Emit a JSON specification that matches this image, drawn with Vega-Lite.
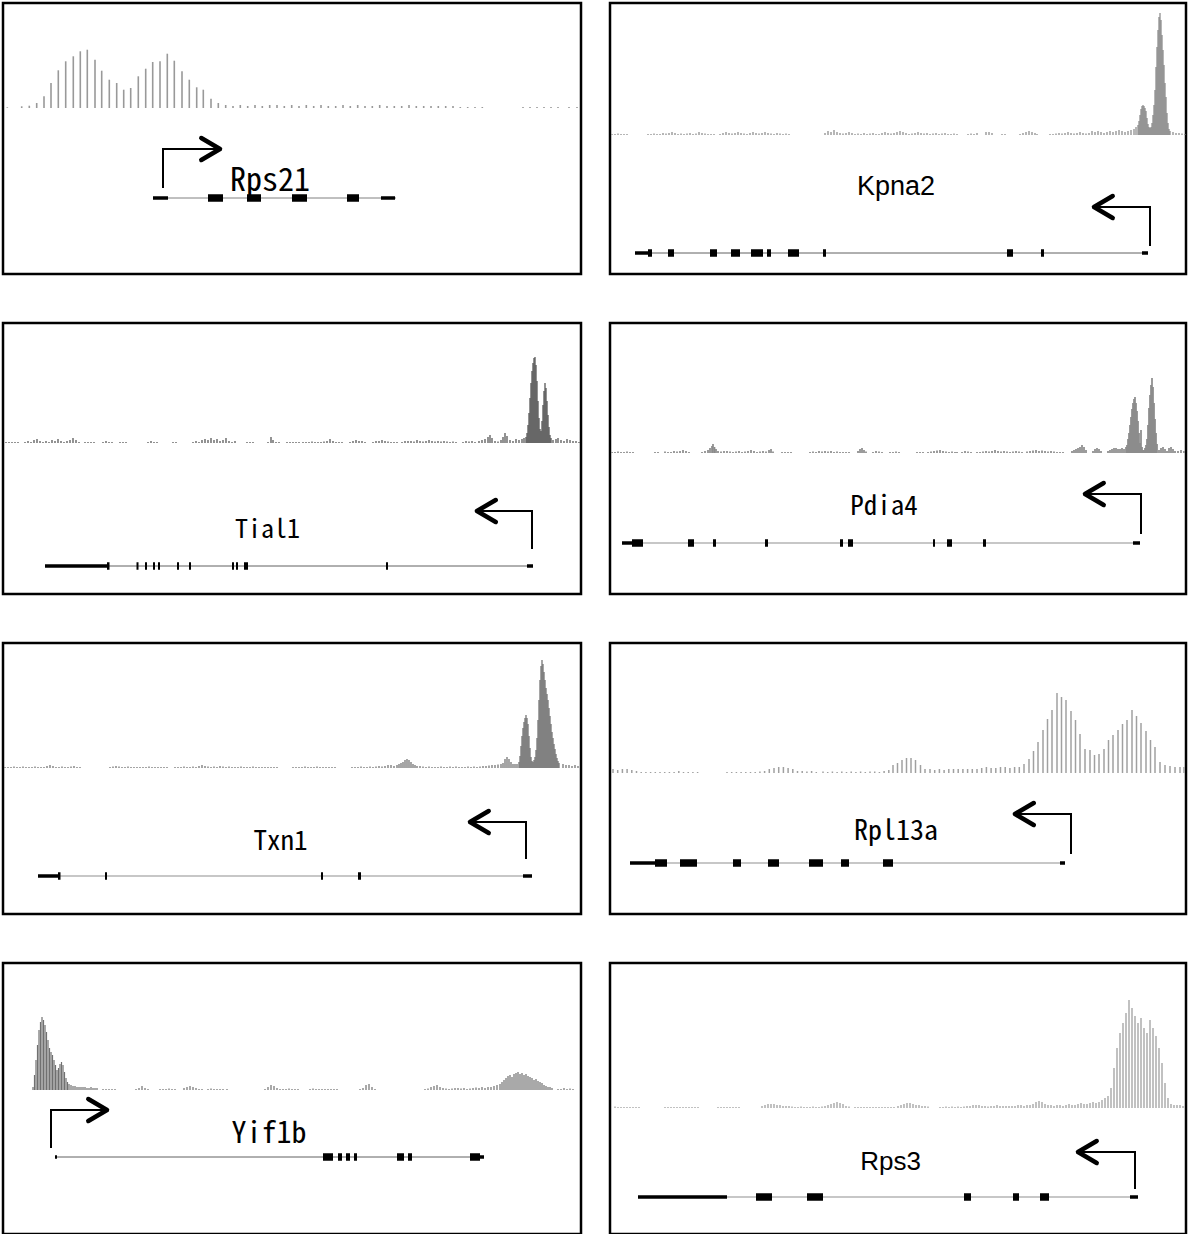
{
  "$schema": "https://vega.github.io/schema/vega-lite/v6.json",
  "background": "white",
  "padding": {"left": 1, "top": 1, "right": 0, "bottom": 0},
  "columns": 2,
  "spacing": {"row": 45, "column": 25},
  "config": {
    "view": {"stroke": "black", "strokeWidth": 2.5},
    "axis": {"disable": true},
    "legend": {"disable": true}
  },
  "datasets": {
    "genes": [
      {"gene": "Rps21", "start": 150, "end": 393, "tss": 160},
      {"gene": "Kpna2", "start": 25, "end": 538, "tss": 540},
      {"gene": "Tial1", "start": 42, "end": 530, "tss": 529},
      {"gene": "Pdia4", "start": 12, "end": 530, "tss": 531},
      {"gene": "Txn1", "start": 35, "end": 529, "tss": 523},
      {"gene": "Rpl13a", "start": 20, "end": 455, "tss": 461},
      {"gene": "Yif1b", "start": 52, "end": 481, "tss": 48},
      {"gene": "Rps3", "start": 28, "end": 528, "tss": 525}
    ],
    "exons": [
      {"gene": "Rps21", "start": 150, "end": 165, "part": "UTR"},
      {"gene": "Rps21", "start": 205, "end": 220, "part": "CDS"},
      {"gene": "Rps21", "start": 244, "end": 258, "part": "CDS"},
      {"gene": "Rps21", "start": 289, "end": 304, "part": "CDS"},
      {"gene": "Rps21", "start": 344, "end": 356, "part": "CDS"},
      {"gene": "Rps21", "start": 378, "end": 392, "part": "UTR"},
      {"gene": "Kpna2", "start": 25, "end": 38, "part": "UTR"},
      {"gene": "Kpna2", "start": 38, "end": 42, "part": "CDS"},
      {"gene": "Kpna2", "start": 58, "end": 64, "part": "CDS"},
      {"gene": "Kpna2", "start": 100, "end": 107, "part": "CDS"},
      {"gene": "Kpna2", "start": 121, "end": 130, "part": "CDS"},
      {"gene": "Kpna2", "start": 141, "end": 153, "part": "CDS"},
      {"gene": "Kpna2", "start": 157, "end": 161, "part": "CDS"},
      {"gene": "Kpna2", "start": 178, "end": 189, "part": "CDS"},
      {"gene": "Kpna2", "start": 213, "end": 216, "part": "CDS"},
      {"gene": "Kpna2", "start": 397, "end": 403, "part": "CDS"},
      {"gene": "Kpna2", "start": 431, "end": 434, "part": "CDS"},
      {"gene": "Kpna2", "start": 532, "end": 538, "part": "UTR"},
      {"gene": "Tial1", "start": 42, "end": 104, "part": "UTR"},
      {"gene": "Tial1", "start": 104, "end": 106.5, "part": "CDS"},
      {"gene": "Tial1", "start": 133.5, "end": 135.5, "part": "CDS"},
      {"gene": "Tial1", "start": 142, "end": 144, "part": "CDS"},
      {"gene": "Tial1", "start": 150, "end": 152, "part": "CDS"},
      {"gene": "Tial1", "start": 155, "end": 157, "part": "CDS"},
      {"gene": "Tial1", "start": 174, "end": 176, "part": "CDS"},
      {"gene": "Tial1", "start": 186, "end": 188, "part": "CDS"},
      {"gene": "Tial1", "start": 229, "end": 231, "part": "CDS"},
      {"gene": "Tial1", "start": 233, "end": 235, "part": "CDS"},
      {"gene": "Tial1", "start": 241, "end": 245, "part": "CDS"},
      {"gene": "Tial1", "start": 383, "end": 385, "part": "CDS"},
      {"gene": "Tial1", "start": 524, "end": 530, "part": "UTR"},
      {"gene": "Pdia4", "start": 12, "end": 22, "part": "UTR"},
      {"gene": "Pdia4", "start": 22, "end": 33, "part": "CDS"},
      {"gene": "Pdia4", "start": 78, "end": 84, "part": "CDS"},
      {"gene": "Pdia4", "start": 103, "end": 106, "part": "CDS"},
      {"gene": "Pdia4", "start": 155, "end": 158, "part": "CDS"},
      {"gene": "Pdia4", "start": 230, "end": 233, "part": "CDS"},
      {"gene": "Pdia4", "start": 238, "end": 243, "part": "CDS"},
      {"gene": "Pdia4", "start": 323, "end": 325, "part": "CDS"},
      {"gene": "Pdia4", "start": 337, "end": 342, "part": "CDS"},
      {"gene": "Pdia4", "start": 373, "end": 376, "part": "CDS"},
      {"gene": "Pdia4", "start": 523, "end": 530, "part": "UTR"},
      {"gene": "Txn1", "start": 35, "end": 56, "part": "UTR"},
      {"gene": "Txn1", "start": 55, "end": 57.5, "part": "CDS"},
      {"gene": "Txn1", "start": 102, "end": 104, "part": "CDS"},
      {"gene": "Txn1", "start": 318, "end": 320, "part": "CDS"},
      {"gene": "Txn1", "start": 355, "end": 358, "part": "CDS"},
      {"gene": "Txn1", "start": 520, "end": 529, "part": "UTR"},
      {"gene": "Rpl13a", "start": 20, "end": 45, "part": "UTR"},
      {"gene": "Rpl13a", "start": 45, "end": 57, "part": "CDS"},
      {"gene": "Rpl13a", "start": 70, "end": 87, "part": "CDS"},
      {"gene": "Rpl13a", "start": 123, "end": 131, "part": "CDS"},
      {"gene": "Rpl13a", "start": 158, "end": 169, "part": "CDS"},
      {"gene": "Rpl13a", "start": 199, "end": 213, "part": "CDS"},
      {"gene": "Rpl13a", "start": 231, "end": 239, "part": "CDS"},
      {"gene": "Rpl13a", "start": 273, "end": 283, "part": "CDS"},
      {"gene": "Rpl13a", "start": 450, "end": 455, "part": "UTR"},
      {"gene": "Yif1b", "start": 52, "end": 54, "part": "UTR"},
      {"gene": "Yif1b", "start": 320, "end": 330, "part": "CDS"},
      {"gene": "Yif1b", "start": 335, "end": 339, "part": "CDS"},
      {"gene": "Yif1b", "start": 343, "end": 347, "part": "CDS"},
      {"gene": "Yif1b", "start": 351, "end": 354, "part": "CDS"},
      {"gene": "Yif1b", "start": 394, "end": 401, "part": "CDS"},
      {"gene": "Yif1b", "start": 405, "end": 409, "part": "CDS"},
      {"gene": "Yif1b", "start": 467, "end": 477, "part": "CDS"},
      {"gene": "Yif1b", "start": 477, "end": 481, "part": "UTR"},
      {"gene": "Rps3", "start": 28, "end": 117, "part": "UTR"},
      {"gene": "Rps3", "start": 146, "end": 162, "part": "CDS"},
      {"gene": "Rps3", "start": 197, "end": 213, "part": "CDS"},
      {"gene": "Rps3", "start": 354, "end": 361, "part": "CDS"},
      {"gene": "Rps3", "start": 403, "end": 409, "part": "CDS"},
      {"gene": "Rps3", "start": 430, "end": 439, "part": "CDS"},
      {"gene": "Rps3", "start": 520, "end": 528, "part": "UTR"}
    ],
    "cov_Rps21": [
      {"pos":4.3,"sig":0.7},{"pos":18.7,"sig":1.7},{"pos":26.3,"sig":2.3},{"pos":33.7,"sig":5},{"pos":41,"sig":11.7},
      {"pos":48,"sig":25},{"pos":55.3,"sig":37.7},{"pos":62.7,"sig":46.7},{"pos":70.3,"sig":51.7},{"pos":77.3,"sig":56.7},
      {"pos":84.3,"sig":58.3},{"pos":92,"sig":48.3},{"pos":98.7,"sig":37.3},{"pos":106.3,"sig":28.3},{"pos":113.7,"sig":25},
      {"pos":120.7,"sig":18.3},{"pos":127.7,"sig":20},{"pos":135.3,"sig":31.7},{"pos":142.7,"sig":39.3},{"pos":149.7,"sig":46},
      {"pos":157,"sig":46.7},{"pos":164.3,"sig":54.3},{"pos":171.3,"sig":47.3},{"pos":179,"sig":36.7},{"pos":186.3,"sig":28.3},
      {"pos":193.7,"sig":20.7},{"pos":200.3,"sig":18.3},{"pos":208,"sig":9.3},{"pos":215.3,"sig":5},
      {"pos":222.7,"sig":3},{"pos":230,"sig":2},{"pos":237.3,"sig":3},{"pos":244.7,"sig":2},{"pos":252,"sig":3},
      {"pos":259.3,"sig":2},{"pos":266.7,"sig":3},{"pos":274,"sig":3},{"pos":281.3,"sig":2},{"pos":288.7,"sig":3},
      {"pos":296,"sig":2},{"pos":303.3,"sig":3},{"pos":310.7,"sig":2},{"pos":318,"sig":3},{"pos":325.3,"sig":2},
      {"pos":332.7,"sig":2},{"pos":340,"sig":3},{"pos":347.3,"sig":2},{"pos":354.7,"sig":3},{"pos":362,"sig":2},
      {"pos":369.3,"sig":2},{"pos":376.7,"sig":3},{"pos":384,"sig":2},{"pos":391.3,"sig":2},{"pos":398.7,"sig":2},
      {"pos":406,"sig":3},{"pos":413.3,"sig":2},{"pos":420.7,"sig":2},{"pos":428,"sig":2},{"pos":435.3,"sig":2},
      {"pos":442.7,"sig":2},{"pos":450,"sig":2},{"pos":457.3,"sig":1},{"pos":464.7,"sig":1},{"pos":472,"sig":1},
      {"pos":479.3,"sig":1},{"pos":520,"sig":1},{"pos":527,"sig":1},{"pos":534,"sig":1},{"pos":541,"sig":1},
      {"pos":548,"sig":1},{"pos":555,"sig":1},{"pos":566,"sig":1},{"pos":574,"sig":1}
    ],
    "cov_Kpna2": [
      {"pos":2,"sig":1},{"pos":5,"sig":1},{"pos":8,"sig":1.5},{"pos":11,"sig":1},{"pos":14,"sig":1},{"pos":17,"sig":1},
      {"pos":38,"sig":1},{"pos":41,"sig":1},{"pos":44,"sig":1.5},{"pos":47,"sig":1},{"pos":50,"sig":1},{"pos":53,"sig":2},
      {"pos":56,"sig":1.5},{"pos":59,"sig":2},{"pos":62,"sig":3},{"pos":65,"sig":2},{"pos":68,"sig":1},{"pos":71,"sig":1.5},
      {"pos":74,"sig":1},{"pos":77,"sig":1.5},{"pos":80,"sig":2},{"pos":83,"sig":1},{"pos":86,"sig":1.5},{"pos":89,"sig":3},
      {"pos":92,"sig":2},{"pos":95,"sig":1.5},{"pos":98,"sig":1},{"pos":101,"sig":1},{"pos":104,"sig":1},
      {"pos":110,"sig":1},{"pos":113,"sig":2},{"pos":116,"sig":3},{"pos":119,"sig":2},{"pos":122,"sig":1.5},{"pos":125,"sig":2},
      {"pos":128,"sig":3},{"pos":131,"sig":2},{"pos":134,"sig":1.5},{"pos":137,"sig":1},{"pos":140,"sig":2},{"pos":143,"sig":3},
      {"pos":146,"sig":2},{"pos":149,"sig":1.5},{"pos":152,"sig":2},{"pos":155,"sig":3},{"pos":158,"sig":2},{"pos":161,"sig":1.5},
      {"pos":164,"sig":1},{"pos":167,"sig":2},{"pos":170,"sig":1.5},{"pos":173,"sig":1},{"pos":176,"sig":1.5},{"pos":179,"sig":1},
      {"pos":215,"sig":2},{"pos":218,"sig":4},{"pos":221,"sig":3},{"pos":224,"sig":5},{"pos":227,"sig":3},{"pos":230,"sig":2},
      {"pos":233,"sig":1.5},{"pos":236,"sig":2},{"pos":239,"sig":3},{"pos":242,"sig":2},{"pos":245,"sig":1},{"pos":248,"sig":1.5},
      {"pos":251,"sig":1},{"pos":254,"sig":2},{"pos":257,"sig":1},{"pos":260,"sig":1.5},{"pos":263,"sig":2},{"pos":266,"sig":1},
      {"pos":269,"sig":1},{"pos":272,"sig":2},{"pos":275,"sig":3},{"pos":278,"sig":2},{"pos":281,"sig":1.5},{"pos":284,"sig":2},
      {"pos":287,"sig":3},{"pos":290,"sig":4},{"pos":293,"sig":3},{"pos":296,"sig":2},{"pos":299,"sig":1},{"pos":302,"sig":1.5},
      {"pos":305,"sig":2},{"pos":308,"sig":3},{"pos":311,"sig":2},{"pos":314,"sig":1.5},{"pos":317,"sig":2},{"pos":320,"sig":1},
      {"pos":323,"sig":1.5},{"pos":326,"sig":2},{"pos":329,"sig":1},{"pos":332,"sig":1.5},{"pos":335,"sig":2},{"pos":338,"sig":1},
      {"pos":341,"sig":1},{"pos":344,"sig":1.5},{"pos":347,"sig":1},
      {"pos":358,"sig":1},{"pos":361,"sig":1.5},{"pos":364,"sig":1},{"pos":367,"sig":2},{"pos":376,"sig":3},{"pos":379,"sig":3},
      {"pos":382,"sig":2},{"pos":392,"sig":1},{"pos":395,"sig":1},
      {"pos":410,"sig":1},{"pos":413,"sig":2},{"pos":416,"sig":3},{"pos":419,"sig":4},{"pos":422,"sig":3},{"pos":425,"sig":2},{"pos":427,"sig":1},
      {"pos":440,"sig":1},{"pos":443,"sig":1},{"pos":446,"sig":1.5},{"pos":449,"sig":2},{"pos":452,"sig":1.5},{"pos":455,"sig":2},
      {"pos":458,"sig":3},{"pos":461,"sig":2},{"pos":464,"sig":1.5},{"pos":467,"sig":2},{"pos":470,"sig":3},{"pos":473,"sig":2},
      {"pos":476,"sig":1.5},{"pos":479,"sig":2},
      {"pos":482,"sig":4},{"pos":485,"sig":3},{"pos":488,"sig":4},{"pos":491,"sig":3},{"pos":494,"sig":2},{"pos":497,"sig":3},
      {"pos":500,"sig":4},{"pos":503,"sig":3},{"pos":506,"sig":4},{"pos":509,"sig":5},{"pos":512,"sig":4},{"pos":515,"sig":3},
      {"pos":518,"sig":4},{"pos":521,"sig":5},{"pos":524,"sig":6},{"pos":526,"sig":8},
      {"pos":528,"sig":10},{"pos":529,"sig":14},{"pos":530,"sig":20},{"pos":531,"sig":26},{"pos":532,"sig":29},{"pos":533,"sig":30},
      {"pos":534,"sig":29},{"pos":535,"sig":27},{"pos":536,"sig":24},{"pos":537,"sig":17},{"pos":538,"sig":11},{"pos":539,"sig":8},
      {"pos":540,"sig":7},{"pos":541,"sig":8},{"pos":542,"sig":12},{"pos":543,"sig":20},{"pos":544,"sig":30},{"pos":545,"sig":45},
      {"pos":546,"sig":68},{"pos":547,"sig":88},{"pos":548,"sig":105},{"pos":549,"sig":118},{"pos":550,"sig":122},{"pos":551,"sig":115},
      {"pos":552,"sig":100},{"pos":553,"sig":85},{"pos":554,"sig":70},{"pos":555,"sig":52},{"pos":556,"sig":38},{"pos":557,"sig":22},
      {"pos":558,"sig":12},{"pos":559,"sig":6},{"pos":560,"sig":4},
      {"pos":563,"sig":3},{"pos":566,"sig":2},{"pos":569,"sig":2},{"pos":572,"sig":1.5},{"pos":575,"sig":1}
    ],
    "cov_Tial1": [
      {"pos":3,"sig":1},{"pos":6,"sig":1},{"pos":9,"sig":1},{"pos":12,"sig":1},{"pos":15,"sig":1},
      {"pos":22,"sig":1},{"pos":25,"sig":2},{"pos":28,"sig":1},{"pos":31,"sig":3},{"pos":34,"sig":4},{"pos":37,"sig":2},
      {"pos":40,"sig":1},{"pos":43,"sig":2},{"pos":46,"sig":1},{"pos":49,"sig":3},{"pos":52,"sig":2},{"pos":55,"sig":4},
      {"pos":58,"sig":2},{"pos":61,"sig":1},{"pos":64,"sig":2},{"pos":67,"sig":3},{"pos":70,"sig":5},{"pos":73,"sig":3},{"pos":76,"sig":1},
      {"pos":82,"sig":1},{"pos":85,"sig":1},{"pos":88,"sig":1},{"pos":91,"sig":1},
      {"pos":100,"sig":1},{"pos":103,"sig":2},{"pos":106,"sig":1},{"pos":109,"sig":1},
      {"pos":117,"sig":1},{"pos":120,"sig":1},{"pos":123,"sig":1},
      {"pos":145,"sig":1},{"pos":148,"sig":2},{"pos":151,"sig":1},{"pos":154,"sig":1},
      {"pos":170,"sig":1},{"pos":173,"sig":1},
      {"pos":190,"sig":1},{"pos":193,"sig":2},{"pos":196,"sig":1},{"pos":199,"sig":3},{"pos":202,"sig":4},{"pos":205,"sig":3},
      {"pos":208,"sig":5},{"pos":211,"sig":3},{"pos":214,"sig":4},{"pos":217,"sig":2},{"pos":220,"sig":3},{"pos":223,"sig":5},
      {"pos":226,"sig":2},{"pos":229,"sig":1},{"pos":232,"sig":2},
      {"pos":244,"sig":1},{"pos":247,"sig":1},{"pos":250,"sig":1},
      {"pos":265,"sig":1},{"pos":268,"sig":6},{"pos":270,"sig":3},{"pos":273,"sig":1},{"pos":276,"sig":1},
      {"pos":284,"sig":1},{"pos":287,"sig":1},{"pos":290,"sig":1},{"pos":293,"sig":1},{"pos":296,"sig":1},
      {"pos":300,"sig":1},{"pos":303,"sig":1},{"pos":306,"sig":1},{"pos":309,"sig":1.5},{"pos":312,"sig":1},{"pos":315,"sig":1},
      {"pos":318,"sig":1},{"pos":321,"sig":1.5},{"pos":324,"sig":2},{"pos":327,"sig":4},{"pos":330,"sig":2},{"pos":333,"sig":1},
      {"pos":336,"sig":1},{"pos":339,"sig":1},{"pos":347,"sig":1},{"pos":350,"sig":2},{"pos":353,"sig":3},{"pos":356,"sig":2},
      {"pos":359,"sig":2},{"pos":362,"sig":1},{"pos":370,"sig":1},{"pos":373,"sig":2},{"pos":376,"sig":2},{"pos":379,"sig":3},
      {"pos":382,"sig":2},{"pos":385,"sig":1.5},{"pos":388,"sig":1},{"pos":391,"sig":1},{"pos":394,"sig":1},{"pos":399,"sig":1},
      {"pos":402,"sig":2},{"pos":405,"sig":2},{"pos":408,"sig":2},{"pos":411,"sig":1.5},{"pos":414,"sig":3},{"pos":417,"sig":2},
      {"pos":420,"sig":1.5},{"pos":423,"sig":2},{"pos":426,"sig":3},{"pos":429,"sig":2},{"pos":432,"sig":1.5},{"pos":435,"sig":2},
      {"pos":438,"sig":1.5},{"pos":441,"sig":2},{"pos":444,"sig":1.5},{"pos":447,"sig":1},{"pos":450,"sig":1.5},{"pos":453,"sig":1},
      {"pos":460,"sig":1},{"pos":463,"sig":2},{"pos":466,"sig":1.5},{"pos":469,"sig":2},{"pos":472,"sig":1},{"pos":476,"sig":2},
      {"pos":479,"sig":3},{"pos":482,"sig":4},{"pos":485,"sig":6},{"pos":487,"sig":8},{"pos":489,"sig":5},{"pos":492,"sig":2},
      {"pos":495,"sig":1.5},{"pos":498,"sig":3},{"pos":500,"sig":6},{"pos":502,"sig":10},{"pos":504,"sig":7},{"pos":507,"sig":3},
      {"pos":510,"sig":2},{"pos":513,"sig":4},{"pos":516,"sig":3},{"pos":519,"sig":4},{"pos":521,"sig":5},
      {"pos":523,"sig":6},{"pos":524,"sig":10},{"pos":525,"sig":18},{"pos":526,"sig":30},{"pos":527,"sig":45},{"pos":528,"sig":60},
      {"pos":529,"sig":72},{"pos":530,"sig":80},{"pos":531,"sig":85},{"pos":532,"sig":86},{"pos":533,"sig":78},{"pos":534,"sig":62},
      {"pos":535,"sig":42},{"pos":536,"sig":25},{"pos":537,"sig":14},{"pos":538,"sig":12},{"pos":539,"sig":22},{"pos":540,"sig":38},
      {"pos":541,"sig":52},{"pos":542,"sig":60},{"pos":543,"sig":55},{"pos":544,"sig":42},{"pos":545,"sig":28},{"pos":546,"sig":16},
      {"pos":547,"sig":8},{"pos":548,"sig":5},
      {"pos":550,"sig":3},{"pos":553,"sig":4},{"pos":555,"sig":5},{"pos":558,"sig":3},{"pos":561,"sig":2},{"pos":564,"sig":4},
      {"pos":567,"sig":3},{"pos":570,"sig":2},{"pos":573,"sig":2},{"pos":576,"sig":1}
    ],
    "cov_Pdia4": [
      {"pos":2,"sig":1},{"pos":5,"sig":1},{"pos":8,"sig":1.5},{"pos":11,"sig":1},{"pos":14,"sig":1},{"pos":17,"sig":1.5},{"pos":20,"sig":1},{"pos":23,"sig":1},
      {"pos":45,"sig":1},{"pos":48,"sig":1},{"pos":55,"sig":1.5},{"pos":58,"sig":1},{"pos":61,"sig":1},{"pos":64,"sig":2},
      {"pos":67,"sig":1.5},{"pos":70,"sig":2},{"pos":73,"sig":3},{"pos":76,"sig":2},{"pos":79,"sig":1},
      {"pos":92,"sig":1},{"pos":95,"sig":2},{"pos":98,"sig":3},{"pos":100,"sig":5},{"pos":102,"sig":7},{"pos":103,"sig":9},
      {"pos":104.5,"sig":6},{"pos":106,"sig":4},{"pos":108,"sig":2},{"pos":111,"sig":1.5},{"pos":114,"sig":2},{"pos":117,"sig":2},
      {"pos":120,"sig":1.5},{"pos":123,"sig":1},{"pos":126,"sig":1.5},{"pos":129,"sig":2},{"pos":132,"sig":1},{"pos":135,"sig":1.5},
      {"pos":138,"sig":2},{"pos":141,"sig":3},{"pos":144,"sig":2},{"pos":147,"sig":1},{"pos":150,"sig":1.5},{"pos":153,"sig":2},
      {"pos":156,"sig":1.5},{"pos":159,"sig":3},{"pos":161,"sig":4},{"pos":163,"sig":1.5},
      {"pos":172,"sig":1},{"pos":175,"sig":1},{"pos":178,"sig":1},{"pos":181,"sig":1},
      {"pos":200,"sig":1},{"pos":203,"sig":1.5},{"pos":206,"sig":1},{"pos":209,"sig":2},{"pos":212,"sig":1.5},{"pos":215,"sig":2},
      {"pos":218,"sig":1.5},{"pos":221,"sig":2},{"pos":224,"sig":1},{"pos":227,"sig":1.5},{"pos":230,"sig":1},{"pos":233,"sig":1},
      {"pos":236,"sig":1},{"pos":239,"sig":1},
      {"pos":248,"sig":2},{"pos":250,"sig":4},{"pos":252,"sig":5},{"pos":254,"sig":3},{"pos":256,"sig":1.5},
      {"pos":263,"sig":1},{"pos":266,"sig":2},{"pos":269,"sig":1.5},{"pos":272,"sig":1},
      {"pos":280,"sig":1},{"pos":283,"sig":1},{"pos":286,"sig":1.5},{"pos":289,"sig":1},
      {"pos":307,"sig":1},{"pos":310,"sig":1},{"pos":313,"sig":1},
      {"pos":318,"sig":1},{"pos":321,"sig":1.5},{"pos":324,"sig":2},{"pos":327,"sig":2.5},{"pos":330,"sig":3},{"pos":333,"sig":2},
      {"pos":336,"sig":1.5},{"pos":339,"sig":1},{"pos":342,"sig":1.5},{"pos":345,"sig":1},{"pos":347,"sig":1},
      {"pos":352,"sig":1},{"pos":355,"sig":2},{"pos":358,"sig":1.5},{"pos":361,"sig":1},
      {"pos":367,"sig":1},{"pos":370,"sig":1},{"pos":373,"sig":1.5},{"pos":376,"sig":2},{"pos":379,"sig":1.5},{"pos":382,"sig":2},
      {"pos":385,"sig":3},{"pos":388,"sig":2},{"pos":391,"sig":1.5},{"pos":394,"sig":2},{"pos":397,"sig":1.5},{"pos":400,"sig":1},
      {"pos":403,"sig":1.5},{"pos":406,"sig":2},{"pos":409,"sig":1.5},{"pos":412,"sig":1},
      {"pos":417,"sig":1.5},{"pos":420,"sig":2},{"pos":423,"sig":2.5},{"pos":426,"sig":3},{"pos":429,"sig":2},{"pos":432,"sig":2.5},
      {"pos":435,"sig":2},{"pos":438,"sig":1.5},{"pos":441,"sig":2},{"pos":444,"sig":1.5},{"pos":447,"sig":1},{"pos":450,"sig":1},{"pos":453,"sig":1},
      {"pos":462,"sig":2},{"pos":464,"sig":3},{"pos":466,"sig":4},{"pos":468,"sig":5},{"pos":470,"sig":6},{"pos":472,"sig":8},{"pos":474,"sig":6},{"pos":476,"sig":3},
      {"pos":483,"sig":2},{"pos":485,"sig":4},{"pos":487,"sig":5},{"pos":489,"sig":4},{"pos":491,"sig":2},
      {"pos":498,"sig":2},{"pos":500,"sig":3},{"pos":502,"sig":4},{"pos":504,"sig":5},{"pos":506,"sig":5},{"pos":508,"sig":4},
      {"pos":510,"sig":4},{"pos":512,"sig":5},{"pos":514,"sig":4},{"pos":516,"sig":6},
      {"pos":517,"sig":8},{"pos":518,"sig":14},{"pos":519,"sig":20},{"pos":520,"sig":28},{"pos":521,"sig":36},{"pos":522,"sig":44},
      {"pos":523,"sig":50},{"pos":524,"sig":54},{"pos":525,"sig":56},{"pos":526,"sig":50},{"pos":527,"sig":42},{"pos":528,"sig":32},
      {"pos":529,"sig":20},{"pos":530,"sig":10},{"pos":531,"sig":23},{"pos":532,"sig":6},{"pos":533,"sig":3},{"pos":534,"sig":3},
      {"pos":535,"sig":5},{"pos":536,"sig":8},{"pos":537,"sig":14},{"pos":538,"sig":28},{"pos":539,"sig":45},{"pos":540,"sig":58},
      {"pos":541,"sig":68},{"pos":542,"sig":75},{"pos":543,"sig":66},{"pos":544,"sig":50},{"pos":545,"sig":34},{"pos":546,"sig":20},
      {"pos":547,"sig":9},
      {"pos":549,"sig":3},{"pos":551,"sig":5},{"pos":553,"sig":6},{"pos":555,"sig":4},{"pos":557,"sig":2},{"pos":559,"sig":5},
      {"pos":561,"sig":6},{"pos":563,"sig":4},{"pos":565,"sig":2},{"pos":568,"sig":2},{"pos":571,"sig":3},{"pos":574,"sig":2}
    ],
    "cov_Txn1": [
      {"pos":2,"sig":1},{"pos":5,"sig":1},{"pos":8,"sig":1},{"pos":11,"sig":1.5},{"pos":14,"sig":1},{"pos":17,"sig":1},
      {"pos":20,"sig":1.5},{"pos":23,"sig":1},{"pos":26,"sig":1},{"pos":29,"sig":1},{"pos":32,"sig":1.5},{"pos":35,"sig":1},
      {"pos":38,"sig":1},{"pos":41,"sig":1},{"pos":44,"sig":2},{"pos":47,"sig":3},{"pos":50,"sig":2},{"pos":53,"sig":1},
      {"pos":56,"sig":1},{"pos":59,"sig":1.5},{"pos":62,"sig":1},{"pos":65,"sig":1},{"pos":68,"sig":1.5},{"pos":71,"sig":2},
      {"pos":74,"sig":1},{"pos":77,"sig":1},
      {"pos":107,"sig":1},{"pos":110,"sig":1.5},{"pos":113,"sig":2},{"pos":116,"sig":1.5},{"pos":119,"sig":1},{"pos":122,"sig":1},
      {"pos":125,"sig":1.5},{"pos":128,"sig":1},{"pos":131,"sig":1},{"pos":134,"sig":1},{"pos":137,"sig":1},{"pos":140,"sig":1},
      {"pos":143,"sig":1},{"pos":146,"sig":1.5},{"pos":149,"sig":1},{"pos":152,"sig":1},{"pos":155,"sig":1},{"pos":158,"sig":1},
      {"pos":161,"sig":1},{"pos":164,"sig":1},
      {"pos":172,"sig":1},{"pos":175,"sig":1},{"pos":178,"sig":1},{"pos":181,"sig":1.5},{"pos":184,"sig":1},{"pos":187,"sig":1},
      {"pos":190,"sig":1.5},{"pos":193,"sig":1},{"pos":196,"sig":2},{"pos":199,"sig":3},{"pos":202,"sig":2},{"pos":205,"sig":1.5},
      {"pos":208,"sig":1},{"pos":211,"sig":1.5},{"pos":214,"sig":1},{"pos":217,"sig":2},{"pos":220,"sig":1.5},{"pos":223,"sig":1},
      {"pos":226,"sig":1.5},{"pos":229,"sig":1},{"pos":232,"sig":1},{"pos":235,"sig":1},{"pos":238,"sig":1.5},{"pos":241,"sig":1},
      {"pos":244,"sig":1},{"pos":247,"sig":1},{"pos":250,"sig":1.5},{"pos":253,"sig":1},{"pos":256,"sig":1},{"pos":259,"sig":1},
      {"pos":262,"sig":1},{"pos":265,"sig":1},{"pos":268,"sig":1},{"pos":271,"sig":1},{"pos":274,"sig":1},
      {"pos":290,"sig":1},{"pos":293,"sig":1},{"pos":296,"sig":1},{"pos":299,"sig":1},{"pos":302,"sig":1.5},{"pos":305,"sig":1},
      {"pos":308,"sig":1},{"pos":311,"sig":1},{"pos":314,"sig":1.5},{"pos":317,"sig":1},{"pos":320,"sig":1},{"pos":323,"sig":1},
      {"pos":326,"sig":1},{"pos":329,"sig":1},{"pos":332,"sig":1},
      {"pos":349,"sig":1},{"pos":352,"sig":1},{"pos":355,"sig":1},{"pos":358,"sig":1.5},{"pos":361,"sig":1},{"pos":364,"sig":1},
      {"pos":367,"sig":1.5},{"pos":370,"sig":1},{"pos":373,"sig":1.5},{"pos":376,"sig":2},{"pos":379,"sig":1.5},{"pos":382,"sig":2},
      {"pos":385,"sig":3},{"pos":388,"sig":3},{"pos":391,"sig":2},{"pos":394,"sig":3},{"pos":396,"sig":4},{"pos":398,"sig":5},
      {"pos":400,"sig":6},{"pos":402,"sig":8},{"pos":404,"sig":9},{"pos":406,"sig":8},{"pos":408,"sig":6},{"pos":410,"sig":4},
      {"pos":412,"sig":3},{"pos":414,"sig":2},
      {"pos":417,"sig":2},{"pos":420,"sig":1.5},{"pos":423,"sig":1},{"pos":426,"sig":1.5},{"pos":429,"sig":1},{"pos":432,"sig":1},
      {"pos":435,"sig":1},{"pos":438,"sig":1.5},{"pos":441,"sig":1},{"pos":444,"sig":1},{"pos":447,"sig":1.5},{"pos":450,"sig":1},
      {"pos":453,"sig":1.5},{"pos":456,"sig":1},{"pos":459,"sig":1},{"pos":462,"sig":1},{"pos":465,"sig":1.5},{"pos":468,"sig":1},
      {"pos":471,"sig":1.5},{"pos":474,"sig":1},{"pos":477,"sig":1.5},{"pos":480,"sig":2},{"pos":483,"sig":2},{"pos":486,"sig":2.5},
      {"pos":489,"sig":3},{"pos":492,"sig":3},{"pos":495,"sig":3.5},{"pos":498,"sig":4},{"pos":500,"sig":5},{"pos":502,"sig":9},
      {"pos":504,"sig":11},{"pos":506,"sig":9},{"pos":508,"sig":6},{"pos":510,"sig":4},{"pos":512,"sig":4},{"pos":514,"sig":4},{"pos":516,"sig":6},
      {"pos":517,"sig":12},{"pos":518,"sig":22},{"pos":519,"sig":32},{"pos":520,"sig":40},{"pos":521,"sig":46},{"pos":522,"sig":50},
      {"pos":523,"sig":53},{"pos":524,"sig":50},{"pos":525,"sig":44},{"pos":526,"sig":32},{"pos":527,"sig":20},{"pos":528,"sig":11},
      {"pos":529,"sig":7},{"pos":530,"sig":6},{"pos":531,"sig":8},{"pos":532,"sig":11},{"pos":533,"sig":18},{"pos":534,"sig":30},
      {"pos":535,"sig":48},{"pos":536,"sig":68},{"pos":537,"sig":88},{"pos":538,"sig":102},{"pos":539,"sig":108},{"pos":540,"sig":104},
      {"pos":541,"sig":96},{"pos":542,"sig":88},{"pos":543,"sig":80},{"pos":544,"sig":74},{"pos":545,"sig":68},{"pos":546,"sig":60},
      {"pos":547,"sig":52},{"pos":548,"sig":44},{"pos":549,"sig":36},{"pos":550,"sig":30},{"pos":551,"sig":24},{"pos":552,"sig":19},
      {"pos":553,"sig":14},{"pos":554,"sig":10},{"pos":555,"sig":7},{"pos":556,"sig":5},
      {"pos":560,"sig":4},{"pos":563,"sig":3},{"pos":566,"sig":3},{"pos":569,"sig":2},{"pos":572,"sig":3},{"pos":575,"sig":2}
    ],
    "cov_Rpl13a": [
      {"pos":3,"sig":4},{"pos":7.7,"sig":3},{"pos":12.4,"sig":4},{"pos":17.1,"sig":4},{"pos":21.8,"sig":3},{"pos":26.5,"sig":2},
      {"pos":31.2,"sig":1},{"pos":35.9,"sig":1},{"pos":40.6,"sig":1},{"pos":45.3,"sig":1},{"pos":50,"sig":1},{"pos":54.7,"sig":1},
      {"pos":59.4,"sig":1},{"pos":64.1,"sig":1},{"pos":68.8,"sig":2},{"pos":73.5,"sig":1},{"pos":78.2,"sig":1},{"pos":82.9,"sig":1},{"pos":87.6,"sig":1},
      {"pos":117,"sig":1},{"pos":121.7,"sig":1},{"pos":126.4,"sig":1},{"pos":131.1,"sig":1},{"pos":135.8,"sig":1},{"pos":140.5,"sig":1},
      {"pos":145.2,"sig":1},{"pos":149.9,"sig":1.5},{"pos":154.6,"sig":2},{"pos":159.3,"sig":4},{"pos":164,"sig":5},{"pos":168.7,"sig":6},
      {"pos":173.4,"sig":6},{"pos":178.1,"sig":5},{"pos":182.8,"sig":4},{"pos":187.5,"sig":2},{"pos":192.2,"sig":2},{"pos":196.9,"sig":1.5},
      {"pos":201.6,"sig":2},{"pos":206.3,"sig":1},
      {"pos":213,"sig":1.5},{"pos":217.7,"sig":1},{"pos":222.4,"sig":1.5},{"pos":227.1,"sig":1},{"pos":231.8,"sig":1.5},{"pos":236.5,"sig":1},
      {"pos":241.2,"sig":1.5},{"pos":245.9,"sig":1},{"pos":250.6,"sig":1.5},{"pos":255.3,"sig":1},{"pos":260,"sig":1.5},{"pos":264.7,"sig":1.5},
      {"pos":269.4,"sig":1},{"pos":274.1,"sig":2},{"pos":278.8,"sig":3},
      {"pos":283,"sig":8},{"pos":287.5,"sig":10},{"pos":292,"sig":13},{"pos":296.5,"sig":15},{"pos":301,"sig":15},{"pos":305.5,"sig":13},
      {"pos":310.5,"sig":8},{"pos":315,"sig":4},
      {"pos":320,"sig":4},{"pos":324.7,"sig":3},{"pos":329.4,"sig":4},{"pos":334.1,"sig":3},{"pos":338.8,"sig":4},{"pos":343.5,"sig":4},
      {"pos":348.2,"sig":4},{"pos":352.9,"sig":4},{"pos":357.6,"sig":4},{"pos":362.3,"sig":4},{"pos":367,"sig":4},{"pos":371.7,"sig":5},
      {"pos":376.4,"sig":6},{"pos":381.1,"sig":5},{"pos":385.8,"sig":5},{"pos":390.5,"sig":6},{"pos":395.2,"sig":6},{"pos":399.9,"sig":5},
      {"pos":404.6,"sig":6},{"pos":409.3,"sig":6},{"pos":414,"sig":9},
      {"pos":419,"sig":14},{"pos":423.5,"sig":22},{"pos":428,"sig":31},{"pos":433,"sig":43},{"pos":437.5,"sig":54},{"pos":442,"sig":63},
      {"pos":447,"sig":80},{"pos":451.5,"sig":76},{"pos":456,"sig":73},{"pos":461,"sig":62},{"pos":465.5,"sig":53},{"pos":470,"sig":39},
      {"pos":475,"sig":24},{"pos":480,"sig":23},{"pos":484.5,"sig":18},{"pos":489,"sig":19},{"pos":494,"sig":24},{"pos":498.5,"sig":33},
      {"pos":503,"sig":38},{"pos":508,"sig":43},{"pos":512.5,"sig":49},{"pos":517,"sig":53},{"pos":522,"sig":63},{"pos":526.5,"sig":57},
      {"pos":531,"sig":50},{"pos":536,"sig":42},{"pos":540.5,"sig":33},{"pos":545,"sig":26},{"pos":550,"sig":11},{"pos":555,"sig":8},
      {"pos":560,"sig":7},{"pos":565,"sig":6},{"pos":570,"sig":6},{"pos":574,"sig":6}
    ],
    "cov_Yif1b": [
      {"pos":30,"sig":3},{"pos":31.5,"sig":15},{"pos":33,"sig":30},{"pos":34.5,"sig":45},{"pos":36,"sig":60},{"pos":37.5,"sig":68},
      {"pos":39,"sig":73},{"pos":40.5,"sig":70},{"pos":42,"sig":65},{"pos":43.5,"sig":58},{"pos":45,"sig":50},{"pos":46.5,"sig":42},
      {"pos":48,"sig":38},{"pos":49.5,"sig":35},{"pos":51,"sig":30},{"pos":52.5,"sig":25},{"pos":54,"sig":20},{"pos":55.5,"sig":22},
      {"pos":57,"sig":26},{"pos":58.5,"sig":28},{"pos":60,"sig":25},{"pos":61.5,"sig":18},{"pos":63,"sig":12},{"pos":64.5,"sig":8},
      {"pos":66,"sig":6},{"pos":68,"sig":5},{"pos":70,"sig":4},{"pos":72,"sig":4},{"pos":74,"sig":3},{"pos":76,"sig":3},
      {"pos":78,"sig":3},{"pos":80,"sig":3},{"pos":82,"sig":3},{"pos":84,"sig":2},{"pos":86,"sig":2},{"pos":88,"sig":3},
      {"pos":90,"sig":2},{"pos":92,"sig":2},{"pos":94,"sig":2},
      {"pos":100,"sig":1},{"pos":103,"sig":1},{"pos":106,"sig":1},{"pos":109,"sig":1},{"pos":112,"sig":1},
      {"pos":133,"sig":1},{"pos":136,"sig":2},{"pos":139,"sig":4},{"pos":142,"sig":2},{"pos":145,"sig":1},
      {"pos":157,"sig":1},{"pos":160,"sig":1},{"pos":163,"sig":1},{"pos":166,"sig":1.5},{"pos":169,"sig":1},{"pos":172,"sig":1},
      {"pos":181,"sig":2},{"pos":184,"sig":3},{"pos":187,"sig":4},{"pos":190,"sig":3},{"pos":193,"sig":2},{"pos":196,"sig":1},
      {"pos":199,"sig":1},{"pos":205,"sig":1},{"pos":208,"sig":1.5},{"pos":211,"sig":1},{"pos":214,"sig":1},{"pos":217,"sig":1},
      {"pos":220,"sig":1},{"pos":224,"sig":1},
      {"pos":262,"sig":1},{"pos":265,"sig":3},{"pos":268,"sig":5},{"pos":271,"sig":4},{"pos":274,"sig":2},{"pos":277,"sig":1},
      {"pos":280,"sig":1},{"pos":283,"sig":1},{"pos":286,"sig":1.5},{"pos":289,"sig":1},{"pos":292,"sig":1},{"pos":295,"sig":1},
      {"pos":307,"sig":1},{"pos":310,"sig":1.5},{"pos":313,"sig":1},{"pos":316,"sig":1},{"pos":319,"sig":1},{"pos":322,"sig":1},
      {"pos":325,"sig":1},{"pos":328,"sig":1},{"pos":331,"sig":1},{"pos":334,"sig":1},
      {"pos":357,"sig":1},{"pos":360,"sig":2},{"pos":363,"sig":5},{"pos":366,"sig":6},{"pos":369,"sig":3},{"pos":372,"sig":1},
      {"pos":422,"sig":1},{"pos":425,"sig":1.5},{"pos":428,"sig":3},{"pos":431,"sig":4},{"pos":434,"sig":5},{"pos":437,"sig":3},
      {"pos":440,"sig":2},{"pos":443,"sig":1.5},{"pos":446,"sig":1},{"pos":449,"sig":1.5},{"pos":452,"sig":2},{"pos":455,"sig":2},
      {"pos":458,"sig":1.5},{"pos":461,"sig":2},{"pos":464,"sig":1},{"pos":467,"sig":1.5},{"pos":470,"sig":2},{"pos":473,"sig":2.5},
      {"pos":476,"sig":2},{"pos":479,"sig":3},{"pos":482,"sig":2},{"pos":485,"sig":3},{"pos":488,"sig":3},{"pos":491,"sig":4},
      {"pos":494,"sig":5},{"pos":497,"sig":6},{"pos":499,"sig":8},{"pos":501,"sig":10},{"pos":503,"sig":12},{"pos":505,"sig":14},
      {"pos":507,"sig":15},{"pos":509,"sig":13},{"pos":511,"sig":16},{"pos":513,"sig":17},{"pos":515,"sig":18},{"pos":517,"sig":16},
      {"pos":519,"sig":17},{"pos":521,"sig":15},{"pos":523,"sig":16},{"pos":525,"sig":14},{"pos":527,"sig":13},{"pos":529,"sig":12},
      {"pos":531,"sig":10},{"pos":533,"sig":11},{"pos":535,"sig":9},{"pos":537,"sig":8},{"pos":539,"sig":7},{"pos":541,"sig":5},
      {"pos":543,"sig":4},{"pos":545,"sig":3},{"pos":547,"sig":3},{"pos":549,"sig":2},
      {"pos":555,"sig":1},{"pos":558,"sig":1},{"pos":561,"sig":2},{"pos":564,"sig":1},{"pos":567,"sig":1.5},{"pos":570,"sig":1}
    ],
    "cov_Rps3": [
      {"pos":5,"sig":1.5},{"pos":8,"sig":1},{"pos":11,"sig":1},{"pos":14,"sig":1},{"pos":17,"sig":1},{"pos":20,"sig":1},
      {"pos":23,"sig":1},{"pos":26,"sig":1},{"pos":29,"sig":1},
      {"pos":55,"sig":1},{"pos":58,"sig":1},{"pos":61,"sig":1},{"pos":64,"sig":1},{"pos":67,"sig":1},{"pos":70,"sig":1},
      {"pos":73,"sig":1},{"pos":76,"sig":1},{"pos":79,"sig":1},{"pos":82,"sig":1},{"pos":85,"sig":1},{"pos":88,"sig":1},
      {"pos":108,"sig":1},{"pos":111,"sig":1},{"pos":114,"sig":1},{"pos":117,"sig":1},{"pos":120,"sig":1},{"pos":123,"sig":1},
      {"pos":126,"sig":1},{"pos":129,"sig":1},
      {"pos":152,"sig":2},{"pos":155,"sig":3},{"pos":158,"sig":4},{"pos":161,"sig":4},{"pos":164,"sig":4},{"pos":167,"sig":3},
      {"pos":170,"sig":3},{"pos":173,"sig":2},{"pos":176,"sig":2},{"pos":179,"sig":2},{"pos":182,"sig":1.5},{"pos":185,"sig":1},
      {"pos":188,"sig":1},{"pos":191,"sig":1.5},{"pos":194,"sig":1},{"pos":197,"sig":1},{"pos":200,"sig":1},{"pos":203,"sig":1.5},
      {"pos":206,"sig":1},{"pos":209,"sig":1},{"pos":212,"sig":1.5},{"pos":215,"sig":2},{"pos":218,"sig":3},{"pos":221,"sig":4},
      {"pos":224,"sig":5},{"pos":227,"sig":6},{"pos":230,"sig":5},{"pos":233,"sig":4},{"pos":236,"sig":2},{"pos":239,"sig":1.5},
      {"pos":245,"sig":1},{"pos":248,"sig":1},{"pos":251,"sig":1},{"pos":254,"sig":1},{"pos":257,"sig":1},{"pos":260,"sig":1},
      {"pos":263,"sig":1},{"pos":266,"sig":1},{"pos":269,"sig":1},{"pos":272,"sig":1},{"pos":275,"sig":1},{"pos":278,"sig":1},
      {"pos":281,"sig":1},{"pos":284,"sig":1},
      {"pos":288,"sig":2},{"pos":291,"sig":3},{"pos":294,"sig":4},{"pos":297,"sig":5},{"pos":300,"sig":5},{"pos":303,"sig":4},
      {"pos":306,"sig":3},{"pos":309,"sig":3},{"pos":312,"sig":2},{"pos":315,"sig":2},{"pos":318,"sig":1.5},
      {"pos":330,"sig":1},{"pos":333,"sig":1},{"pos":336,"sig":1.5},{"pos":339,"sig":1},{"pos":342,"sig":1.5},{"pos":345,"sig":1},
      {"pos":348,"sig":1.5},{"pos":351,"sig":1},{"pos":354,"sig":1.5},{"pos":357,"sig":2},{"pos":360,"sig":2},{"pos":363,"sig":3},
      {"pos":366,"sig":3},{"pos":369,"sig":3},{"pos":372,"sig":2},{"pos":375,"sig":2},{"pos":378,"sig":1.5},{"pos":381,"sig":2},
      {"pos":384,"sig":2},{"pos":387,"sig":3},{"pos":390,"sig":2},{"pos":393,"sig":2},{"pos":396,"sig":2},{"pos":399,"sig":2},
      {"pos":402,"sig":2},{"pos":405,"sig":2},{"pos":408,"sig":3},{"pos":411,"sig":3},{"pos":414,"sig":2},{"pos":417,"sig":3},
      {"pos":420,"sig":3},{"pos":423,"sig":4},{"pos":426,"sig":6},{"pos":429,"sig":7},{"pos":432,"sig":6},{"pos":435,"sig":4},
      {"pos":438,"sig":3},{"pos":441,"sig":3},{"pos":444,"sig":2},{"pos":447,"sig":3},{"pos":450,"sig":3},{"pos":453,"sig":2},
      {"pos":456,"sig":3},{"pos":459,"sig":4},{"pos":462,"sig":3},{"pos":465,"sig":3},{"pos":468,"sig":4},{"pos":471,"sig":5},
      {"pos":474,"sig":4},{"pos":477,"sig":4},{"pos":480,"sig":5},{"pos":483,"sig":6},{"pos":486,"sig":5},{"pos":489,"sig":6},
      {"pos":492,"sig":8},{"pos":495,"sig":10},{"pos":498,"sig":12},
      {"pos":501,"sig":20},{"pos":504,"sig":40},{"pos":507,"sig":60},{"pos":510,"sig":75},{"pos":513,"sig":85},{"pos":516,"sig":95},
      {"pos":519,"sig":108},{"pos":522,"sig":100},{"pos":525,"sig":92},{"pos":528,"sig":85},{"pos":531,"sig":90},{"pos":534,"sig":80},
      {"pos":537,"sig":75},{"pos":540,"sig":88},{"pos":543,"sig":80},{"pos":546,"sig":72},{"pos":549,"sig":60},{"pos":552,"sig":45},
      {"pos":555,"sig":25},{"pos":558,"sig":10},
      {"pos":561,"sig":4},{"pos":564,"sig":3},{"pos":567,"sig":3},{"pos":570,"sig":3},{"pos":573,"sig":2}
    ]
  },
  "concat": [
    {
      "width": 578, "height": 271,
      "layer": [
        {"data": {"name": "cov_Rps21"}, "mark": {"type": "rule", "color": "#999999", "strokeWidth": 1.6},
         "encoding": {"x": {"field": "pos", "type": "quantitative", "scale": {"domain": [0, 578], "nice": false, "zero": false}},
                      "y": {"field": "sig", "type": "quantitative", "scale": {"domain": [-166, 105], "nice": false, "zero": false}},
                      "y2": {"datum": 0}}},
        {"data": {"name": "genes"}, "transform": [{"filter": "datum.gene === 'Rps21'"}], "mark": {"type": "rule", "color": "#808080", "strokeWidth": 1},
         "encoding": {"x": {"field": "start", "type": "quantitative"}, "x2": {"field": "end"}, "y": {"datum": -90}}},
        {"data": {"name": "exons"}, "transform": [{"filter": "datum.gene === 'Rps21'"}], "mark": {"type": "rule", "color": "black", "strokeCap": "butt"},
         "encoding": {"x": {"field": "start", "type": "quantitative"}, "x2": {"field": "end"}, "y": {"datum": -90},
                      "size": {"field": "part", "type": "nominal", "scale": {"domain": ["UTR", "CDS"], "range": [3.5, 7.5]}}}},
        {"data": {"name": "genes"}, "transform": [{"filter": "datum.gene === 'Rps21'"}],
         "mark": {"type": "text", "font": "Noto Sans Mono CJK JP, DejaVu Sans Mono", "fontSize": 32, "color": "black", "align": "center", "baseline": "alphabetic"},
         "encoding": {"text": {"field": "gene"}, "x": {"datum": 267}, "y": {"datum": -83}}},
        {"data": {"name": "genes"}, "transform": [{"filter": "datum.gene === 'Rps21'"}], "mark": {"type": "rule", "color": "black", "strokeWidth": 2, "strokeCap": "square"},
         "encoding": {"x": {"field": "tss", "type": "quantitative"}, "y": {"datum": -79}, "y2": {"datum": -41}}},
        {"data": {"name": "genes"}, "transform": [{"filter": "datum.gene === 'Rps21'"}], "mark": {"type": "rule", "color": "black", "strokeWidth": 2, "strokeCap": "square"},
         "encoding": {"x": {"field": "tss", "type": "quantitative"}, "x2": {"datum": 217}, "y": {"datum": -41}}},
        {"data": {"name": "genes"}, "transform": [{"filter": "datum.gene === 'Rps21'"}],
         "mark": {"type": "point", "shape": "M-1.7,-1L0,0L-1.7,1", "size": 484, "filled": false, "color": "black", "opacity": 1, "strokeWidth": 4.5, "strokeCap": "round", "strokeJoin": "round"},
         "encoding": {"x": {"datum": 217}, "y": {"datum": -41}}}
      ]
    },
    {
      "width": 576, "height": 271,
      "layer": [
        {"data": {"name": "cov_Kpna2"}, "mark": {"type": "rule", "color": "#7a7a7a", "strokeWidth": 1.1},
         "encoding": {"x": {"field": "pos", "type": "quantitative", "scale": {"domain": [0, 576], "nice": false, "zero": false}},
                      "y": {"field": "sig", "type": "quantitative", "scale": {"domain": [-139, 132], "nice": false, "zero": false}},
                      "y2": {"datum": 0}}},
        {"data": {"name": "genes"}, "transform": [{"filter": "datum.gene === 'Kpna2'"}], "mark": {"type": "rule", "color": "#606060", "strokeWidth": 1},
         "encoding": {"x": {"field": "start", "type": "quantitative"}, "x2": {"field": "end"}, "y": {"datum": -118}}},
        {"data": {"name": "exons"}, "transform": [{"filter": "datum.gene === 'Kpna2'"}], "mark": {"type": "rule", "color": "black", "strokeCap": "butt"},
         "encoding": {"x": {"field": "start", "type": "quantitative"}, "x2": {"field": "end"}, "y": {"datum": -118},
                      "size": {"field": "part", "type": "nominal", "scale": {"domain": ["UTR", "CDS"], "range": [4, 8]}}}},
        {"data": {"name": "genes"}, "transform": [{"filter": "datum.gene === 'Kpna2'"}],
         "mark": {"type": "text", "font": "Liberation Sans", "fontSize": 27, "color": "black", "align": "center", "baseline": "alphabetic"},
         "encoding": {"text": {"field": "gene"}, "x": {"datum": 286}, "y": {"datum": -60}}},
        {"data": {"name": "genes"}, "transform": [{"filter": "datum.gene === 'Kpna2'"}], "mark": {"type": "rule", "color": "black", "strokeWidth": 2, "strokeCap": "square"},
         "encoding": {"x": {"field": "tss", "type": "quantitative"}, "y": {"datum": -110}, "y2": {"datum": -72}}},
        {"data": {"name": "genes"}, "transform": [{"filter": "datum.gene === 'Kpna2'"}], "mark": {"type": "rule", "color": "black", "strokeWidth": 2, "strokeCap": "square"},
         "encoding": {"x": {"field": "tss", "type": "quantitative"}, "x2": {"datum": 484}, "y": {"datum": -72}}},
        {"data": {"name": "genes"}, "transform": [{"filter": "datum.gene === 'Kpna2'"}],
         "mark": {"type": "point", "shape": "M1.7,-1L0,0L1.7,1", "size": 484, "filled": false, "color": "black", "opacity": 1, "strokeWidth": 4.5, "strokeCap": "round", "strokeJoin": "round"},
         "encoding": {"x": {"datum": 484}, "y": {"datum": -72}}}
      ]
    },
    {
      "width": 578, "height": 271,
      "layer": [
        {"data": {"name": "cov_Tial1"}, "mark": {"type": "rule", "color": "#4a4a4a", "strokeWidth": 1.2},
         "encoding": {"x": {"field": "pos", "type": "quantitative", "scale": {"domain": [0, 578], "nice": false, "zero": false}},
                      "y": {"field": "sig", "type": "quantitative", "scale": {"domain": [-151, 120], "nice": false, "zero": false}},
                      "y2": {"datum": 0}}},
        {"data": {"name": "genes"}, "transform": [{"filter": "datum.gene === 'Tial1'"}], "mark": {"type": "rule", "color": "#606060", "strokeWidth": 1},
         "encoding": {"x": {"field": "start", "type": "quantitative"}, "x2": {"field": "end"}, "y": {"datum": -123}}},
        {"data": {"name": "exons"}, "transform": [{"filter": "datum.gene === 'Tial1'"}], "mark": {"type": "rule", "color": "black", "strokeCap": "butt"},
         "encoding": {"x": {"field": "start", "type": "quantitative"}, "x2": {"field": "end"}, "y": {"datum": -123},
                      "size": {"field": "part", "type": "nominal", "scale": {"domain": ["UTR", "CDS"], "range": [4.5, 8]}}}},
        {"data": {"name": "genes"}, "transform": [{"filter": "datum.gene === 'Tial1'"}],
         "mark": {"type": "text", "font": "Noto Sans Mono CJK JP, DejaVu Sans Mono", "fontSize": 26, "color": "black", "align": "center", "baseline": "alphabetic"},
         "encoding": {"text": {"field": "gene"}, "x": {"datum": 264.5}, "y": {"datum": -95}}},
        {"data": {"name": "genes"}, "transform": [{"filter": "datum.gene === 'Tial1'"}], "mark": {"type": "rule", "color": "black", "strokeWidth": 2, "strokeCap": "square"},
         "encoding": {"x": {"field": "tss", "type": "quantitative"}, "y": {"datum": -105}, "y2": {"datum": -68}}},
        {"data": {"name": "genes"}, "transform": [{"filter": "datum.gene === 'Tial1'"}], "mark": {"type": "rule", "color": "black", "strokeWidth": 2, "strokeCap": "square"},
         "encoding": {"x": {"field": "tss", "type": "quantitative"}, "x2": {"datum": 474}, "y": {"datum": -68}}},
        {"data": {"name": "genes"}, "transform": [{"filter": "datum.gene === 'Tial1'"}],
         "mark": {"type": "point", "shape": "M1.7,-1L0,0L1.7,1", "size": 484, "filled": false, "color": "black", "opacity": 1, "strokeWidth": 4.5, "strokeCap": "round", "strokeJoin": "round"},
         "encoding": {"x": {"datum": 474}, "y": {"datum": -68}}}
      ]
    },
    {
      "width": 576, "height": 271,
      "layer": [
        {"data": {"name": "cov_Pdia4"}, "mark": {"type": "rule", "color": "#8a8a8a", "strokeWidth": 1.7},
         "encoding": {"x": {"field": "pos", "type": "quantitative", "scale": {"domain": [0, 576], "nice": false, "zero": false}},
                      "y": {"field": "sig", "type": "quantitative", "scale": {"domain": [-141, 130], "nice": false, "zero": false}},
                      "y2": {"datum": 0}}},
        {"data": {"name": "genes"}, "transform": [{"filter": "datum.gene === 'Pdia4'"}], "mark": {"type": "rule", "color": "#909090", "strokeWidth": 1.2},
         "encoding": {"x": {"field": "start", "type": "quantitative"}, "x2": {"field": "end"}, "y": {"datum": -90}}},
        {"data": {"name": "exons"}, "transform": [{"filter": "datum.gene === 'Pdia4'"}], "mark": {"type": "rule", "color": "black", "strokeCap": "butt"},
         "encoding": {"x": {"field": "start", "type": "quantitative"}, "x2": {"field": "end"}, "y": {"datum": -90},
                      "size": {"field": "part", "type": "nominal", "scale": {"domain": ["UTR", "CDS"], "range": [4, 7]}}}},
        {"data": {"name": "genes"}, "transform": [{"filter": "datum.gene === 'Pdia4'"}],
         "mark": {"type": "text", "font": "Noto Sans Mono CJK JP, DejaVu Sans Mono", "fontSize": 27, "color": "black", "align": "center", "baseline": "alphabetic"},
         "encoding": {"text": {"field": "gene"}, "x": {"datum": 274}, "y": {"datum": -62}}},
        {"data": {"name": "genes"}, "transform": [{"filter": "datum.gene === 'Pdia4'"}], "mark": {"type": "rule", "color": "black", "strokeWidth": 2, "strokeCap": "square"},
         "encoding": {"x": {"field": "tss", "type": "quantitative"}, "y": {"datum": -80}, "y2": {"datum": -41}}},
        {"data": {"name": "genes"}, "transform": [{"filter": "datum.gene === 'Pdia4'"}], "mark": {"type": "rule", "color": "black", "strokeWidth": 2, "strokeCap": "square"},
         "encoding": {"x": {"field": "tss", "type": "quantitative"}, "x2": {"datum": 475}, "y": {"datum": -41}}},
        {"data": {"name": "genes"}, "transform": [{"filter": "datum.gene === 'Pdia4'"}],
         "mark": {"type": "point", "shape": "M1.7,-1L0,0L1.7,1", "size": 484, "filled": false, "color": "black", "opacity": 1, "strokeWidth": 4.5, "strokeCap": "round", "strokeJoin": "round"},
         "encoding": {"x": {"datum": 475}, "y": {"datum": -41}}}
      ]
    },
    {
      "width": 578, "height": 271,
      "layer": [
        {"data": {"name": "cov_Txn1"}, "mark": {"type": "rule", "color": "#6a6a6a", "strokeWidth": 1.2},
         "encoding": {"x": {"field": "pos", "type": "quantitative", "scale": {"domain": [0, 578], "nice": false, "zero": false}},
                      "y": {"field": "sig", "type": "quantitative", "scale": {"domain": [-146, 125], "nice": false, "zero": false}},
                      "y2": {"datum": 0}}},
        {"data": {"name": "genes"}, "transform": [{"filter": "datum.gene === 'Txn1'"}], "mark": {"type": "rule", "color": "#909090", "strokeWidth": 1.2},
         "encoding": {"x": {"field": "start", "type": "quantitative"}, "x2": {"field": "end"}, "y": {"datum": -108}}},
        {"data": {"name": "exons"}, "transform": [{"filter": "datum.gene === 'Txn1'"}], "mark": {"type": "rule", "color": "black", "strokeCap": "butt"},
         "encoding": {"x": {"field": "start", "type": "quantitative"}, "x2": {"field": "end"}, "y": {"datum": -108},
                      "size": {"field": "part", "type": "nominal", "scale": {"domain": ["UTR", "CDS"], "range": [4, 7]}}}},
        {"data": {"name": "genes"}, "transform": [{"filter": "datum.gene === 'Txn1'"}],
         "mark": {"type": "text", "font": "Noto Sans Mono CJK JP, DejaVu Sans Mono", "fontSize": 27, "color": "black", "align": "center", "baseline": "alphabetic"},
         "encoding": {"text": {"field": "gene"}, "x": {"datum": 277.5}, "y": {"datum": -82}}},
        {"data": {"name": "genes"}, "transform": [{"filter": "datum.gene === 'Txn1'"}], "mark": {"type": "rule", "color": "black", "strokeWidth": 2, "strokeCap": "square"},
         "encoding": {"x": {"field": "tss", "type": "quantitative"}, "y": {"datum": -90}, "y2": {"datum": -54}}},
        {"data": {"name": "genes"}, "transform": [{"filter": "datum.gene === 'Txn1'"}], "mark": {"type": "rule", "color": "black", "strokeWidth": 2, "strokeCap": "square"},
         "encoding": {"x": {"field": "tss", "type": "quantitative"}, "x2": {"datum": 467}, "y": {"datum": -54}}},
        {"data": {"name": "genes"}, "transform": [{"filter": "datum.gene === 'Txn1'"}],
         "mark": {"type": "point", "shape": "M1.7,-1L0,0L1.7,1", "size": 484, "filled": false, "color": "black", "opacity": 1, "strokeWidth": 4.5, "strokeCap": "round", "strokeJoin": "round"},
         "encoding": {"x": {"datum": 467}, "y": {"datum": -54}}}
      ]
    },
    {
      "width": 576, "height": 271,
      "layer": [
        {"data": {"name": "cov_Rpl13a"}, "mark": {"type": "rule", "color": "#a0a0a0", "strokeWidth": 1.5},
         "encoding": {"x": {"field": "pos", "type": "quantitative", "scale": {"domain": [0, 576], "nice": false, "zero": false}},
                      "y": {"field": "sig", "type": "quantitative", "scale": {"domain": [-141, 130], "nice": false, "zero": false}},
                      "y2": {"datum": 0}}},
        {"data": {"name": "genes"}, "transform": [{"filter": "datum.gene === 'Rpl13a'"}], "mark": {"type": "rule", "color": "#909090", "strokeWidth": 1.2},
         "encoding": {"x": {"field": "start", "type": "quantitative"}, "x2": {"field": "end"}, "y": {"datum": -90}}},
        {"data": {"name": "exons"}, "transform": [{"filter": "datum.gene === 'Rpl13a'"}], "mark": {"type": "rule", "color": "black", "strokeCap": "butt"},
         "encoding": {"x": {"field": "start", "type": "quantitative"}, "x2": {"field": "end"}, "y": {"datum": -90},
                      "size": {"field": "part", "type": "nominal", "scale": {"domain": ["UTR", "CDS"], "range": [4, 8]}}}},
        {"data": {"name": "genes"}, "transform": [{"filter": "datum.gene === 'Rpl13a'"}],
         "mark": {"type": "text", "font": "Noto Sans Mono CJK JP, DejaVu Sans Mono", "fontSize": 28, "color": "black", "align": "center", "baseline": "alphabetic"},
         "encoding": {"text": {"field": "gene"}, "x": {"datum": 286}, "y": {"datum": -67}}},
        {"data": {"name": "genes"}, "transform": [{"filter": "datum.gene === 'Rpl13a'"}], "mark": {"type": "rule", "color": "black", "strokeWidth": 2, "strokeCap": "square"},
         "encoding": {"x": {"field": "tss", "type": "quantitative"}, "y": {"datum": -80}, "y2": {"datum": -41}}},
        {"data": {"name": "genes"}, "transform": [{"filter": "datum.gene === 'Rpl13a'"}], "mark": {"type": "rule", "color": "black", "strokeWidth": 2, "strokeCap": "square"},
         "encoding": {"x": {"field": "tss", "type": "quantitative"}, "x2": {"datum": 405}, "y": {"datum": -41}}},
        {"data": {"name": "genes"}, "transform": [{"filter": "datum.gene === 'Rpl13a'"}],
         "mark": {"type": "point", "shape": "M1.7,-1L0,0L1.7,1", "size": 484, "filled": false, "color": "black", "opacity": 1, "strokeWidth": 4.5, "strokeCap": "round", "strokeJoin": "round"},
         "encoding": {"x": {"datum": 405}, "y": {"datum": -41}}}
      ]
    },
    {
      "width": 578, "height": 271,
      "layer": [
        {"data": {"name": "cov_Yif1b"}, "mark": {"type": "rule", "color": "#707070", "strokeWidth": 1.2},
         "encoding": {"x": {"field": "pos", "type": "quantitative", "scale": {"domain": [0, 578], "nice": false, "zero": false}},
                      "y": {"field": "sig", "type": "quantitative", "scale": {"domain": [-144, 127], "nice": false, "zero": false}},
                      "y2": {"datum": 0}}},
        {"data": {"name": "genes"}, "transform": [{"filter": "datum.gene === 'Yif1b'"}], "mark": {"type": "rule", "color": "#606060", "strokeWidth": 1},
         "encoding": {"x": {"field": "start", "type": "quantitative"}, "x2": {"field": "end"}, "y": {"datum": -67}}},
        {"data": {"name": "exons"}, "transform": [{"filter": "datum.gene === 'Yif1b'"}], "mark": {"type": "rule", "color": "black", "strokeCap": "butt"},
         "encoding": {"x": {"field": "start", "type": "quantitative"}, "x2": {"field": "end"}, "y": {"datum": -67},
                      "size": {"field": "part", "type": "nominal", "scale": {"domain": ["UTR", "CDS"], "range": [4, 8]}}}},
        {"data": {"name": "genes"}, "transform": [{"filter": "datum.gene === 'Yif1b'"}],
         "mark": {"type": "text", "font": "Noto Sans Mono CJK JP, DejaVu Sans Mono", "fontSize": 30, "color": "black", "align": "center", "baseline": "alphabetic"},
         "encoding": {"text": {"field": "gene"}, "x": {"datum": 266}, "y": {"datum": -53}}},
        {"data": {"name": "genes"}, "transform": [{"filter": "datum.gene === 'Yif1b'"}], "mark": {"type": "rule", "color": "black", "strokeWidth": 2, "strokeCap": "square"},
         "encoding": {"x": {"field": "tss", "type": "quantitative"}, "y": {"datum": -57}, "y2": {"datum": -20}}},
        {"data": {"name": "genes"}, "transform": [{"filter": "datum.gene === 'Yif1b'"}], "mark": {"type": "rule", "color": "black", "strokeWidth": 2, "strokeCap": "square"},
         "encoding": {"x": {"field": "tss", "type": "quantitative"}, "x2": {"datum": 104}, "y": {"datum": -20}}},
        {"data": {"name": "genes"}, "transform": [{"filter": "datum.gene === 'Yif1b'"}],
         "mark": {"type": "point", "shape": "M-1.7,-1L0,0L-1.7,1", "size": 484, "filled": false, "color": "black", "opacity": 1, "strokeWidth": 4.5, "strokeCap": "round", "strokeJoin": "round"},
         "encoding": {"x": {"datum": 104}, "y": {"datum": -20}}}
      ]
    },
    {
      "width": 576, "height": 271,
      "layer": [
        {"data": {"name": "cov_Rps3"}, "mark": {"type": "rule", "color": "#a0a0a0", "strokeWidth": 1.3},
         "encoding": {"x": {"field": "pos", "type": "quantitative", "scale": {"domain": [0, 576], "nice": false, "zero": false}},
                      "y": {"field": "sig", "type": "quantitative", "scale": {"domain": [-126, 145], "nice": false, "zero": false}},
                      "y2": {"datum": 0}}},
        {"data": {"name": "genes"}, "transform": [{"filter": "datum.gene === 'Rps3'"}], "mark": {"type": "rule", "color": "#909090", "strokeWidth": 1.2},
         "encoding": {"x": {"field": "start", "type": "quantitative"}, "x2": {"field": "end"}, "y": {"datum": -89}}},
        {"data": {"name": "exons"}, "transform": [{"filter": "datum.gene === 'Rps3'"}], "mark": {"type": "rule", "color": "black", "strokeCap": "butt"},
         "encoding": {"x": {"field": "start", "type": "quantitative"}, "x2": {"field": "end"}, "y": {"datum": -89},
                      "size": {"field": "part", "type": "nominal", "scale": {"domain": ["UTR", "CDS"], "range": [4, 8]}}}},
        {"data": {"name": "genes"}, "transform": [{"filter": "datum.gene === 'Rps3'"}],
         "mark": {"type": "text", "font": "Liberation Sans", "fontSize": 26, "color": "black", "align": "center", "baseline": "alphabetic"},
         "encoding": {"text": {"field": "gene"}, "x": {"datum": 280.5}, "y": {"datum": -62}}},
        {"data": {"name": "genes"}, "transform": [{"filter": "datum.gene === 'Rps3'"}], "mark": {"type": "rule", "color": "black", "strokeWidth": 2, "strokeCap": "square"},
         "encoding": {"x": {"field": "tss", "type": "quantitative"}, "y": {"datum": -80}, "y2": {"datum": -44}}},
        {"data": {"name": "genes"}, "transform": [{"filter": "datum.gene === 'Rps3'"}], "mark": {"type": "rule", "color": "black", "strokeWidth": 2, "strokeCap": "square"},
         "encoding": {"x": {"field": "tss", "type": "quantitative"}, "x2": {"datum": 468}, "y": {"datum": -44}}},
        {"data": {"name": "genes"}, "transform": [{"filter": "datum.gene === 'Rps3'"}],
         "mark": {"type": "point", "shape": "M1.7,-1L0,0L1.7,1", "size": 484, "filled": false, "color": "black", "opacity": 1, "strokeWidth": 4.5, "strokeCap": "round", "strokeJoin": "round"},
         "encoding": {"x": {"datum": 468}, "y": {"datum": -44}}}
      ]
    }
  ]
}
